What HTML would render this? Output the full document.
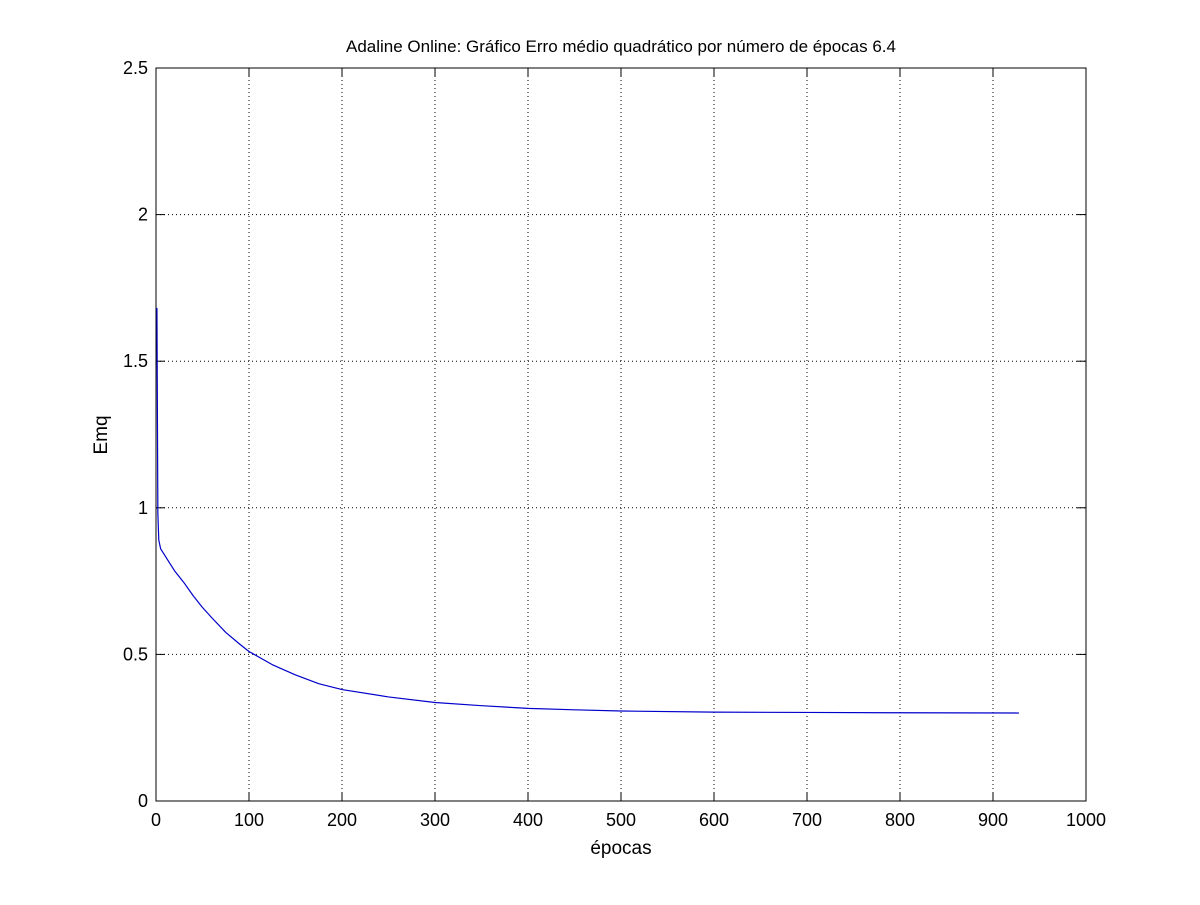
<!DOCTYPE html>
<html><head><meta charset="utf-8"><style>
body{margin:0;background:#fff;}
svg text{font-family:"Liberation Sans",sans-serif;fill:#000;}
</style></head><body>
<svg id="chart" width="1200" height="900" xmlns="http://www.w3.org/2000/svg">
<rect width="1200" height="900" fill="#fff"/>
<g id="grid"></g><g id="axes"></g><g id="series"></g>
<text x="621" y="52" font-size="17" text-anchor="middle">Adaline Online: Gráfico Erro médio quadrático por número de épocas 6.4</text>
<text x="621" y="854" font-size="19" text-anchor="middle">épocas</text>
<text x="107" y="435" font-size="19" text-anchor="middle" transform="rotate(-90 107 435)">Emq</text>
</svg>
<script>
const xTicks=[0,100,200,300,400,500,600,700,800,900,1000];
const yTicks=[0,0.5,1,1.5,2,2.5];
const yTickLabels=["0","0.5","1","1.5","2","2.5"];
const epochs=[1,2,3,5,10,15,20,25,30,40,50,60,75,90,100,125,150,175,200,250,300,350,400,450,500,600,700,800,928];
const emq=[1.68,0.98,0.89,0.86,0.835,0.81,0.785,0.765,0.745,0.70,0.66,0.625,0.575,0.535,0.51,0.465,0.43,0.40,0.38,0.355,0.336,0.325,0.316,0.311,0.307,0.303,0.302,0.301,0.30];
const L=156,R=1086,T=68,B=801;
const xs=v=>L+(v-0)/(1000)*(R-L);
const ys=v=>B-(v/2.5)*(B-T);
const NS="http://www.w3.org/2000/svg";
function mk(tag,attrs,parent){const e=document.createElementNS(NS,tag);for(const k in attrs)e.setAttribute(k,attrs[k]);parent.appendChild(e);return e;}
const grid=document.getElementById('grid'),axes=document.getElementById('axes'),series=document.getElementById('series');
xTicks.forEach((t,i)=>{const x=xs(t);
 if(i>0&&i<xTicks.length-1){const g=mk('line',{x1:x,x2:x,y1:T,y2:B,stroke:'#000','stroke-dasharray':'1 3','stroke-width':1},grid);
 
 }
 mk('line',{x1:x,x2:x,y1:B,y2:B-9,stroke:'#000'},axes);
 mk('line',{x1:x,x2:x,y1:T,y2:T+9,stroke:'#000'},axes);
 const tx=mk('text',{x:x,y:B+25,'font-size':18,'text-anchor':'middle'},axes);tx.textContent=t;
 
 
});
yTicks.forEach((t,i)=>{const y=ys(t);
 if(i>0&&i<yTicks.length-1){const g=mk('line',{x1:L,x2:R,y1:y,y2:y,stroke:'#000','stroke-dasharray':'1 3','stroke-width':1},grid);
 
 }
 mk('line',{x1:L,x2:L+9,y1:y,y2:y,stroke:'#000'},axes);
 mk('line',{x1:R,x2:R-9,y1:y,y2:y,stroke:'#000'},axes);
 const tx=mk('text',{x:L-8,y:y+6,'font-size':18,'text-anchor':'end'},axes);tx.textContent=yTickLabels[i];
 
 
});
const box=mk('rect',{x:L,y:T,width:R-L,height:B-T,fill:'none',stroke:'#000','stroke-width':1},axes);


let d='M'+xs(0)+' '+ys(emq[0]);
epochs.forEach((e,i)=>{d+=' L'+xs(e).toFixed(2)+' '+ys(emq[i]).toFixed(2);});
const p=mk('path',{d:d,fill:'none',stroke:'#0000cc','stroke-width':1.2,'stroke-linejoin':'round'},series);


</script>
</body></html>
